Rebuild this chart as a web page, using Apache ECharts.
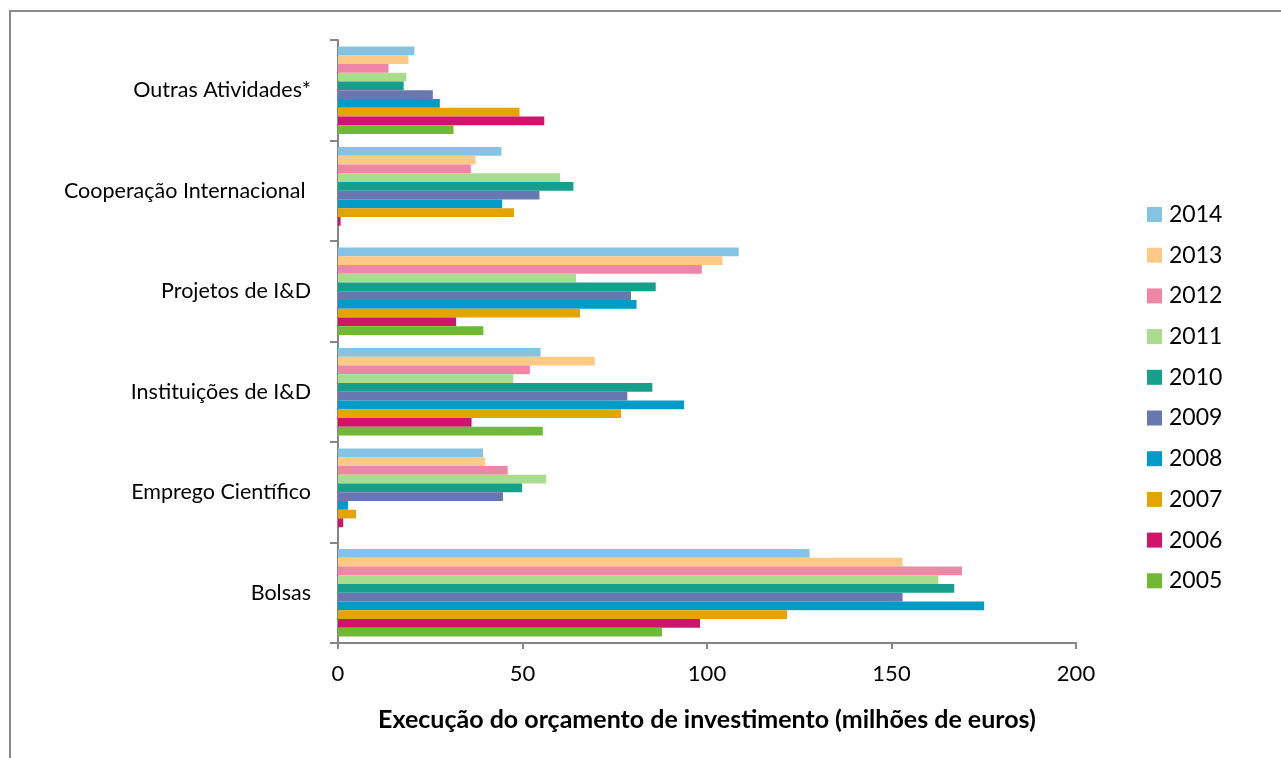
<!DOCTYPE html>
<html>
<head>
<meta charset="utf-8">
<script src="https://cdn.jsdelivr.net/npm/echarts@6/dist/echarts.min.js"></script>
<style>
  html, body { margin: 0; padding: 0; background: #fff; }
  #chart { width: 1281px; height: 758px; }
</style>
</head>
<body>
<div id="chart"></div>
<script>
// categories, bottom to top
const categories = ['Bolsas', 'Emprego Científico', 'Instituições de I&D', 'Projetos de I&D', 'Cooperação Internacional ', 'Outras Atividades*'];
const years = ['2005', '2006', '2007', '2008', '2009', '2010', '2011', '2012', '2013', '2014'];
const colors = ['#70B933', '#D0136B', '#E2A503', '#009BC7', '#6778B1', '#169F8B', '#A9DD8D', '#EE86A6', '#FDC987', '#85C3E4'];

// one array per year, same order as categories
const v2005 = [87.8, 0, 55.5, 39.4, 0, 31.3];
const v2006 = [98.1, 1.4, 36.2, 32.0, 0.7, 55.9];
const v2007 = [121.7, 4.9, 76.7, 65.6, 47.7, 49.2];
const v2008 = [175.1, 2.7, 93.8, 80.9, 44.5, 27.6];
const v2009 = [153.0, 44.7, 78.4, 79.4, 54.6, 25.7];
const v2010 = [167.0, 49.9, 85.2, 86.1, 63.8, 17.8];
const v2011 = [162.7, 56.4, 47.5, 64.5, 60.2, 18.5];
const v2012 = [169.1, 46.0, 52.0, 98.6, 36.0, 13.7];
const v2013 = [153.0, 39.8, 69.6, 104.2, 37.3, 19.1];
const v2014 = [127.8, 39.3, 54.9, 108.6, 44.3, 20.7];
const values = [v2005, v2006, v2007, v2008, v2009, v2010, v2011, v2012, v2013, v2014];

const xTicks = { min: 0, max: 200, interval: 50 };
const axisName = 'Execução do orçamento de investimento (milhões de euros)';

const font = 'Lato, "Open Sans", sans-serif';
const axisGrey = '#868686';

// first series is drawn on top of each group, so go from 2014 down to 2005
let order = years.map((y, i) => i).reverse();

let chart = echarts.init(document.getElementById('chart'));
chart.setOption({
    animation: false,
    textStyle: { fontFamily: font },
    graphic: [{
        type: 'rect',
        shape: { x: 10, y: 11, width: 1400, height: 900 },
        style: { fill: 'none', stroke: '#8a8a8a', lineWidth: 2 }
    }],
    grid: { left: 338, right: 205, top: 40, bottom: 115 },
    legend: {
        orient: 'vertical',
        left: 1147,
        top: 203,
        padding: 0,
        itemWidth: 15,
        itemHeight: 15,
        itemGap: 17.7,
        icon: 'rect',
        data: years.slice().reverse(),
        textStyle: { fontFamily: font, fontSize: 23, color: '#000', padding: [0, 0, 0, 2] }
    },
    xAxis: {
        type: 'value',
        min: xTicks.min,
        max: xTicks.max,
        interval: xTicks.interval,
        name: axisName,
        nameLocation: 'middle',
        nameGap: 64,
        nameTextStyle: { fontFamily: font, fontSize: 25, fontWeight: 'bold', color: '#000' },
        axisLine: { show: true, lineStyle: { color: axisGrey, width: 2 } },
        axisTick: { show: true, length: 6, lineStyle: { color: axisGrey, width: 2 } },
        axisLabel: { fontFamily: font, fontSize: 22, color: '#000', margin: 20 },
        splitLine: { show: false }
    },
    yAxis: {
        type: 'category',
        data: categories,
        axisLine: { show: true, lineStyle: { color: axisGrey, width: 2 } },
        axisTick: { show: true, length: 8, lineStyle: { color: axisGrey, width: 2 } },
        axisLabel: { fontFamily: font, fontSize: 21.5, color: '#000', margin: 27 }
    },
    series: order.map(i => ({
        name: years[i],
        type: 'bar',
        data: values[i],
        barGap: 0,
        barCategoryGap: '13%',
        itemStyle: { color: colors[i] }
    }))
});
</script>
</body>
</html>
